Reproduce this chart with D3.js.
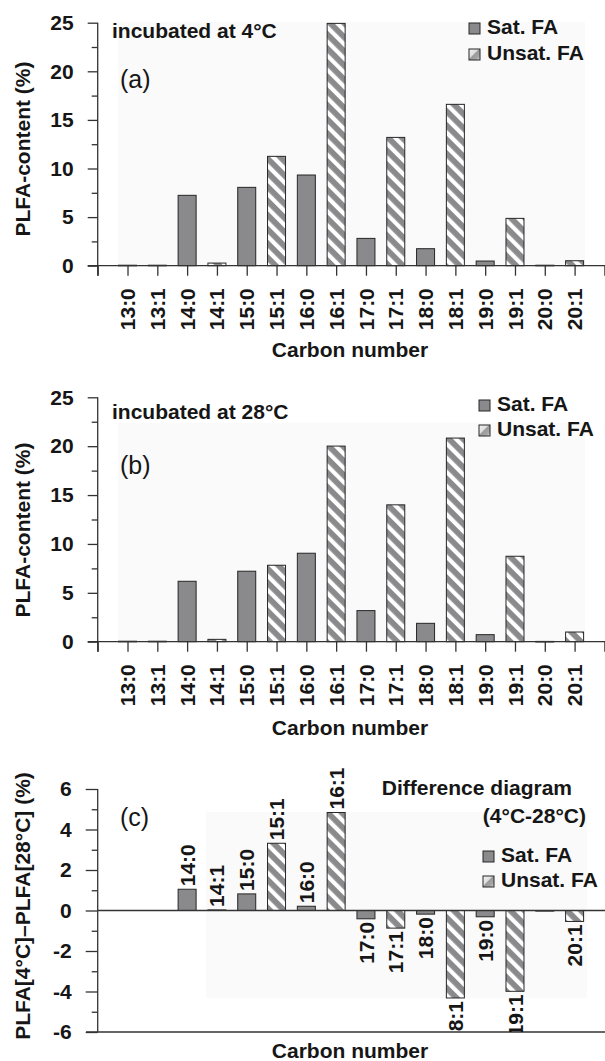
<!DOCTYPE html>
<html>
<head>
<meta charset="utf-8">
<script src="https://cdn.jsdelivr.net/npm/d3@7"></script>
<style>
  html, body { margin: 0; padding: 0; background: #fff; }
  svg { display: block; }
  text { font-family: "Liberation Sans", Arial, Helvetica, sans-serif; fill: #161616; }
</style>
</head>
<body>
<svg id="chart" width="605" height="1061"></svg>
<script>
// ---------------- DATA ----------------
const categories = ["13:0","13:1","14:0","14:1","15:0","15:1","16:0","16:1","17:0","17:1","18:0","18:1","19:0","19:1","20:0","20:1"];
const seriesNames = ["Sat. FA", "Unsat. FA"];
// (a) incubated at 4 °C
const valuesA = [0.05, 0.05, 7.24, 0.27, 8.06, 11.25, 9.33, 24.93, 2.81, 13.2, 1.75, 16.6, 0.48, 4.87, 0.05, 0.51];
// (b) incubated at 28 °C
const valuesB = [0.05, 0.05, 6.18, 0.24, 7.21, 7.82, 9.05, 20.01, 3.18, 14.0, 1.88, 20.83, 0.72, 8.74, 0.03, 0.99];
// (c) difference 4 °C − 28 °C
const valuesC = [null, null, 1.05, 0.03, 0.82, 3.32, 0.21, 4.84, -0.41, -0.87, -0.18, -4.32, -0.31, -3.99, -0.02, -0.54];
const labelsC = [null, null, "14:0","14:1","15:0","15:1","16:0","16:1","17:0","17:1","18:0","18:1","19:0","19:1", null, "20:1"];
const yTicksAB = [0, 5, 10, 15, 20, 25];
const yMinorAB = [2.5, 7.5, 12.5, 17.5, 22.5];
const yTicksC = [-6, -4, -2, 0, 2, 4, 6];
const yMinorC = [-5, -3, -1, 1, 3, 5];

const seriesOf = c => c.endsWith(":0") ? seriesNames[0] : seriesNames[1];

// ---------------- SETUP ----------------
const svg = d3.select("#chart");
const W = 605;
const FONT = 21;
const GRAY = "#8a8a8c";
const STROKE = "#262626";
const AXIS = "#333";
const BG = "#fafafa";

const defs = svg.append("defs");
const pat = defs.append("pattern")
  .attr("id", "hatch")
  .attr("patternUnits", "userSpaceOnUse")
  .attr("width", 10).attr("height", 10)
  .attr("patternTransform", "rotate(-45)");
pat.append("rect").attr("width", 10).attr("height", 10).attr("fill", GRAY);
pat.append("rect").attr("width", 4.2).attr("height", 10).attr("fill", "#fff");

const grad = defs.append("linearGradient").attr("id", "legendHatch")
  .attr("x1", 0).attr("y1", 0).attr("x2", 1).attr("y2", 1);
[[0, "#f4f4f4"], [0.42, "#dedede"], [0.5, "#9a9a9a"], [0.8, "#a8a8a8"], [1, "#efefef"]]
  .forEach(([o, c]) => grad.append("stop").attr("offset", o).attr("stop-color", c));

const fillOf = name => name === seriesNames[0] ? GRAY : "url(#hatch)";

const x = d3.scaleLinear().domain([-1, 16]).range([97.7, 604.4]);
const BW = 18;

function yAxis(g, y, majors, minors, majLen, minLen) {
  const gy = g.append("g").attr("transform", "translate(97.7,0)");
  gy.call(d3.axisLeft(y).tickValues(majors).tickSize(majLen).tickPadding(14).tickFormat(d => String(d)))
    .call(s => s.select(".domain").remove());
  gy.selectAll(".tick line").attr("stroke", AXIS).attr("stroke-width", 1.3);
  gy.selectAll(".tick text").attr("font-size", FONT).attr("font-weight", "bold").attr("fill", "#161616")
    .style("font-family", '"Liberation Sans", Arial, sans-serif');
  const gm = g.append("g").attr("transform", "translate(97.7,0)");
  gm.call(d3.axisLeft(y).tickValues(minors).tickSize(minLen).tickFormat(""))
    .call(s => s.select(".domain").remove());
  gm.selectAll(".tick line").attr("stroke", AXIS).attr("stroke-width", 1.3);
}

function bars(g, y, values) {
  const data = categories.map((c, i) => ({ c, i, v: values[i], s: seriesOf(c) })).filter(d => d.v !== null);
  g.append("g").selectAll("rect").data(data).join("rect")
    .attr("x", d => x(d.i) - BW / 2)
    .attr("width", BW)
    .attr("y", d => Math.min(y(d.v), y(0)))
    .attr("height", d => Math.max(Math.abs(y(d.v) - y(0)), 0.6))
    .attr("fill", d => fillOf(d.s))
    .attr("stroke", STROKE).attr("stroke-width", 1);
}

function legend(g, lx, ly, gap) {
  const items = g.append("g").selectAll("g").data(seriesNames).join("g")
    .attr("transform", (d, i) => `translate(${lx},${ly + i * gap})`);
  items.append("rect").attr("x", 0).attr("y", -11).attr("width", 11).attr("height", 11)
    .attr("fill", (d, i) => i === 0 ? GRAY : "url(#legendHatch)")
    .attr("stroke", STROKE).attr("stroke-width", 1);
  items.append("text").attr("x", 18).attr("y", 0).attr("font-size", FONT).attr("font-weight", "bold").text(d => d);
}

function yLabel(g, cx, cy, txt) {
  g.append("text").attr("transform", `translate(${cx},${cy}) rotate(-90)`)
    .attr("text-anchor", "middle").attr("dy", "0.35em")
    .attr("font-size", FONT).attr("font-weight", "bold").text(txt);
}

// ---------------- PANELS (a) and (b) ----------------
function panelAB(opts) {
  const g = svg.append("g");
  const y = d3.scaleLinear().domain([0, 25]).range([opts.y0, opts.y25]);
  g.append("rect").attr("x", 118).attr("y", opts.bgTop).attr("width", 467).attr("height", opts.y0 - opts.bgTop)
    .attr("fill", BG);
  bars(g, y, opts.values);
  const gx = g.append("g").attr("transform", `translate(0,${opts.y0})`);
  gx.call(d3.axisBottom(x).tickValues(d3.range(-1, 17)).tickSize(10).tickFormat(""))
    .call(s => s.select(".domain").remove());
  gx.selectAll(".tick line").attr("stroke", AXIS).attr("stroke-width", 1.3);
  g.append("line").attr("x1", 87.7).attr("x2", W).attr("y1", opts.y0).attr("y2", opts.y0)
    .attr("stroke", AXIS).attr("stroke-width", 1.3);
  g.append("line").attr("x1", 97.7).attr("x2", 97.7).attr("y1", opts.y25).attr("y2", opts.y0 + 10)
    .attr("stroke", AXIS).attr("stroke-width", 1.3);
  yAxis(g, y, yTicksAB, yMinorAB, 10, 6);
  g.append("g").selectAll("text").data(categories).join("text")
    .attr("transform", (d, i) => `translate(${x(i)},${opts.y0 + 22.5}) rotate(-90)`)
    .attr("text-anchor", "end").attr("dy", "0.36em")
    .attr("font-size", FONT).attr("font-weight", "bold").text(d => d);
  g.append("text").attr("x", 350).attr("y", opts.xTitleY).attr("text-anchor", "middle")
    .attr("font-size", FONT).attr("font-weight", "bold").text("Carbon number");
  yLabel(g, 23, opts.yLabelCy, "PLFA-content (%)");
  g.append("text").attr("x", 112).attr("y", opts.titleY).attr("font-size", FONT).attr("font-weight", "bold").text(opts.title);
  g.append("text").attr("x", 120).attr("y", opts.tagY).attr("font-size", 25).text(opts.tag);
  legend(g, opts.legX, opts.legY, opts.legGap);
}

panelAB({ values: valuesA, y0: 265.7, y25: 22.7, bgTop: 22, xTitleY: 357, yLabelCy: 149,
  title: "incubated at 4°C", titleY: 38, tag: "(a)", tagY: 88, legX: 469, legY: 34, legGap: 26 });
panelAB({ values: valuesB, y0: 641.7, y25: 397.3, bgTop: 423, xTitleY: 735, yLabelCy: 530,
  title: "incubated at 28°C", titleY: 419, tag: "(b)", tagY: 474, legX: 479, legY: 411, legGap: 25 });

// ---------------- PANEL (c) ----------------
(function () {
  const g = svg.append("g");
  const y = d3.scaleLinear().domain([-6, 6]).range([1032, 789]);
  g.append("rect").attr("x", 206).attr("y", 812).attr("width", 381).attr("height", 186).attr("fill", BG);
  defs.append("clipPath").attr("id", "clipC").append("rect").attr("x", 0).attr("y", 0).attr("width", W).attr("height", y(-6));
  bars(g, y, valuesC);
  g.append("line").attr("x1", 97.7).attr("x2", W).attr("y1", y(0)).attr("y2", y(0)).attr("stroke", AXIS).attr("stroke-width", 1.3);
  g.append("line").attr("x1", 86).attr("x2", W).attr("y1", y(-6)).attr("y2", y(-6)).attr("stroke", AXIS).attr("stroke-width", 1.3);
  g.append("line").attr("x1", 97.7).attr("x2", 97.7).attr("y1", y(6)).attr("y2", y(-6)).attr("stroke", AXIS).attr("stroke-width", 1.3);
  yAxis(g, y, yTicksC, yMinorC, 12, 6);
  const lab = categories.map((c, i) => ({ i, v: valuesC[i], t: labelsC[i] })).filter(d => d.t);
  g.append("g").attr("clip-path", "url(#clipC)").selectAll("text").data(lab).join("text")
    .attr("transform", d => d.v >= 0 ? `translate(${x(d.i)},${y(d.v) - 3}) rotate(-90)` : `translate(${x(d.i)},${y(d.v) + 3}) rotate(-90)`)
    .attr("text-anchor", d => d.v >= 0 ? "start" : "end").attr("dy", "0.36em")
    .attr("font-size", FONT).attr("font-weight", "bold").text(d => d.t);
  g.append("text").attr("x", 350).attr("y", 1058).attr("text-anchor", "middle")
    .attr("font-size", FONT).attr("font-weight", "bold").text("Carbon number");
  yLabel(g, 23, 906, "PLFA[4°C]–PLFA[28°C] (%)");
  g.append("text").attr("x", 120).attr("y", 826).attr("font-size", 25).text("(c)");
  g.append("text").attr("x", 572).attr("y", 795).attr("text-anchor", "end").attr("font-size", FONT).attr("font-weight", "bold").text("Difference diagram");
  g.append("text").attr("x", 586).attr("y", 823).attr("text-anchor", "end").attr("font-size", FONT).attr("font-weight", "bold").text("(4°C-28°C)");
  legend(g, 483, 862, 25);
})();
</script>
</body>
</html>
